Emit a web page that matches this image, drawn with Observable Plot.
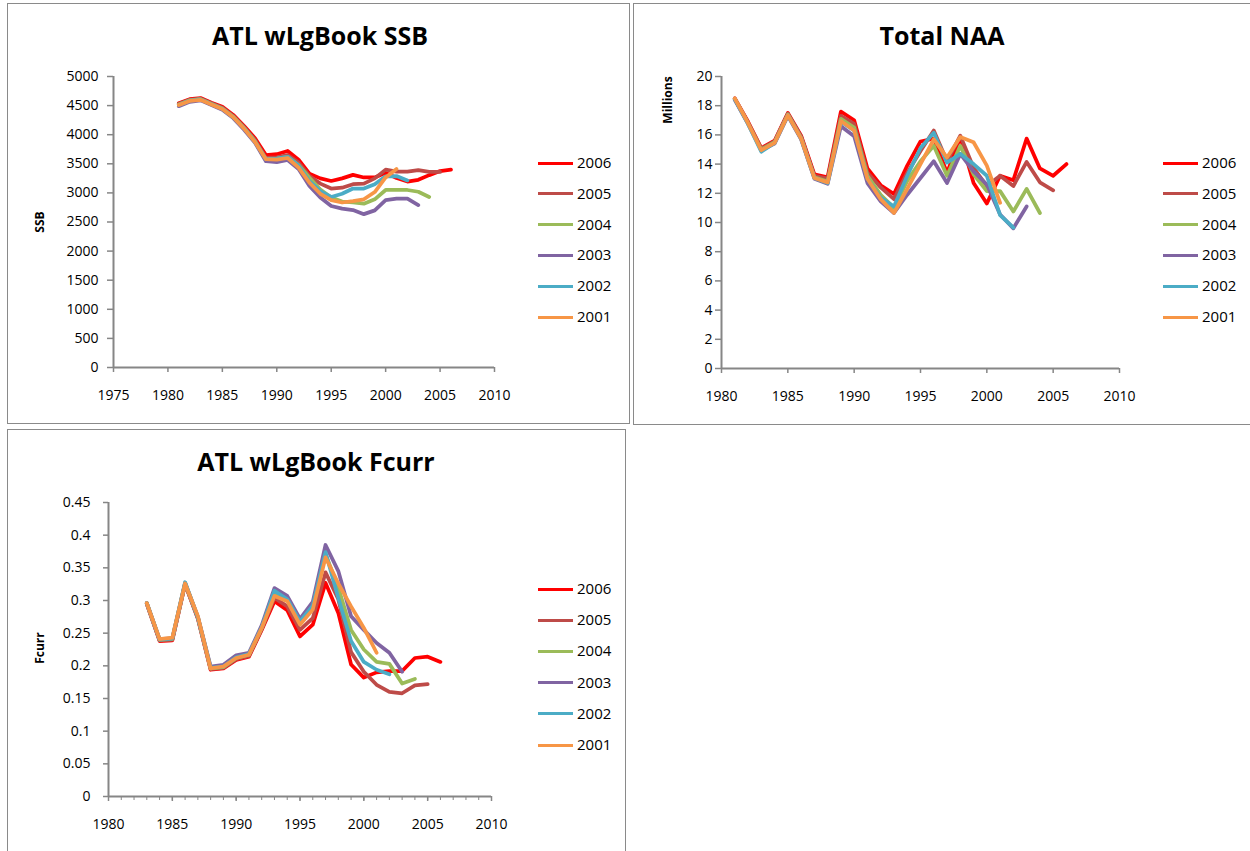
<!DOCTYPE html>
<html>
<head>
<meta charset="utf-8">
<script src="https://cdn.jsdelivr.net/npm/d3@7"></script>
<script src="https://cdn.jsdelivr.net/npm/@observablehq/plot@0.6"></script>
<style>
  html, body { margin: 0; padding: 0; background: #fff; }
  body { width: 1250px; height: 851px; position: relative; overflow: hidden; font-family: "Open Sans", sans-serif; }
  .panel { position: absolute; border: 1px solid #8a8a8a; box-sizing: border-box; background: #fff; }
  .title { position: absolute; font-weight: bold; font-size: 25px; line-height: 25px; text-align: center; color: #000; white-space: nowrap; }
  .ylab { position: absolute; font-weight: bold; font-size: 12px; line-height: 12px; color: #000; white-space: nowrap; transform: translate(-50%, -50%) rotate(-90deg); }
  .leg { position: absolute; font-size: 15px; line-height: 15px; color: #000; white-space: nowrap; }
  .leg .sw { position: absolute; height: 3px; }
  .leg .tx { position: absolute; }
  svg.chart { position: absolute; }
</style>
</head>
<body>
<script>
// ---------- data ----------
const runs = ["2006", "2005", "2004", "2003", "2002", "2001"];
const runColors = ["#ff0000", "#be4b48", "#9bbb59", "#8064a2", "#4bacc6", "#f79646"];

// SSB (ATL wLgBook SSB), years 1981..
const ssbYears = [1981,1982,1983,1984,1985,1986,1987,1988,1989,1990,1991,1992,1993,1994,1995,1996,1997,1998,1999,2000,2001,2002,2003,2004,2005,2006];
const ssb2006 = [4540,4610,4630,4550,4480,4340,4150,3940,3650,3665,3720,3570,3330,3250,3205,3250,3310,3265,3265,3345,3255,3195,3225,3305,3375,3400];
const ssb2005 = [4530,4600,4620,4540,4465,4320,4130,3910,3600,3610,3650,3520,3290,3160,3075,3090,3150,3160,3250,3400,3365,3365,3390,3360,3360];
const ssb2004 = [4520,4590,4610,4530,4450,4310,4115,3890,3580,3590,3620,3480,3260,3060,2920,2850,2835,2815,2890,3050,3050,3050,3020,2930];
const ssb2003 = [4490,4565,4590,4510,4430,4285,4085,3860,3545,3530,3565,3410,3120,2920,2775,2730,2705,2635,2700,2875,2900,2900,2790];
const ssb2002 = [4510,4585,4605,4525,4445,4300,4110,3880,3580,3590,3620,3470,3200,3030,2930,2985,3075,3075,3150,3285,3290,3215];
const ssb2001 = [4510,4580,4600,4520,4440,4300,4105,3875,3580,3570,3600,3435,3175,2985,2875,2835,2860,2890,3015,3265,3410];
const ssbYTicks = [0,500,1000,1500,2000,2500,3000,3500,4000,4500,5000];
const ssbXTicks = [1975,1980,1985,1990,1995,2000,2005,2010];

// Total NAA (millions), years 1981..
const naaYears = [1981,1982,1983,1984,1985,1986,1987,1988,1989,1990,1991,1992,1993,1994,1995,1996,1997,1998,1999,2000,2001,2002,2003,2004,2005,2006];
const naa2006 = [18.5,16.9,15.1,15.6,17.5,15.95,13.3,13.1,17.6,17.0,13.7,12.55,11.95,13.9,15.55,15.75,13.4,15.85,12.7,11.3,13.2,12.9,15.75,13.7,13.2,14.0];
const naa2005 = [18.5,16.85,15.05,15.55,17.45,15.9,13.2,13.0,17.3,16.75,13.4,12.4,11.6,13.4,14.9,16.3,14.2,15.95,13.75,12.5,13.2,12.5,14.15,12.75,12.2];
const naa2004 = [18.45,16.8,15.0,15.5,17.4,15.8,13.1,12.8,17.1,16.5,13.2,11.9,11.0,12.85,14.2,15.25,13.2,15.25,13.3,12.15,12.15,10.75,12.3,10.65];
const naa2003 = [18.4,16.75,14.95,15.4,17.3,15.7,13.0,12.65,16.6,15.9,12.7,11.45,10.65,11.9,13.05,14.2,12.7,14.7,13.5,12.6,10.55,9.6,11.1];
const naa2002 = [18.45,16.75,14.85,15.45,17.35,15.75,13.05,12.7,16.9,16.3,13.0,11.7,11.1,13.2,15.1,16.15,14.1,14.7,14.0,13.2,10.5,9.65];
const naa2001 = [18.5,16.8,14.95,15.45,17.35,15.75,13.05,12.75,16.95,16.3,13.0,11.6,10.65,12.3,14.0,15.7,14.45,15.85,15.5,13.9,11.35];
const naaYTicks = [0,2,4,6,8,10,12,14,16,18,20];
const naaXTicks = [1980,1985,1990,1995,2000,2005,2010];

// Fcurr, years 1983..
const fYears = [1983,1984,1985,1986,1987,1988,1989,1990,1991,1992,1993,1994,1995,1996,1997,1998,1999,2000,2001,2002,2003,2004,2005,2006];
const f2006 = [0.295,0.238,0.239,0.325,0.272,0.194,0.196,0.209,0.214,0.255,0.299,0.285,0.245,0.263,0.327,0.281,0.202,0.182,0.190,0.192,0.192,0.212,0.214,0.206];
const f2005 = [0.295,0.239,0.240,0.325,0.273,0.195,0.197,0.210,0.215,0.256,0.304,0.291,0.255,0.273,0.343,0.302,0.221,0.191,0.171,0.160,0.158,0.170,0.172];
const f2004 = [0.296,0.240,0.241,0.326,0.274,0.196,0.198,0.212,0.217,0.258,0.312,0.302,0.271,0.294,0.371,0.320,0.255,0.225,0.206,0.203,0.173,0.180];
const f2003 = [0.296,0.241,0.242,0.327,0.275,0.199,0.2015,0.216,0.220,0.262,0.319,0.307,0.272,0.298,0.385,0.345,0.276,0.255,0.235,0.220,0.191];
const f2002 = [0.296,0.240,0.242,0.328,0.274,0.197,0.199,0.213,0.218,0.259,0.315,0.302,0.268,0.292,0.374,0.304,0.238,0.206,0.194,0.187];
const f2001 = [0.296,0.241,0.243,0.326,0.276,0.196,0.199,0.212,0.217,0.258,0.307,0.299,0.263,0.286,0.366,0.326,0.291,0.258,0.220];
const fYTicks = [0,0.05,0.1,0.15,0.2,0.25,0.3,0.35,0.4,0.45];
const fXTicks = [1980,1985,1990,1995,2000,2005,2010];
const fXMinor = [1980,1981,1982,1983,1984,1985,1986,1987,1988,1989,1990,1991,1992,1993,1994,1995,1996,1997,1998,1999,2000,2001,2002,2003,2004,2005,2006,2007,2008,2009,2010];

// ---------- helpers ----------
function tidy(years, seriesList) {
  const rows = [];
  seriesList.forEach((vals, k) => {
    vals.forEach((v, i) => rows.push({run: runs[k], year: years[i], value: v}));
  });
  return rows;
}
function addDiv(cls, css, text) {
  const d = document.createElement("div");
  d.className = cls;
  Object.assign(d.style, css);
  if (text != null) d.textContent = text;
  document.body.appendChild(d);
  return d;
}
function legend(left, top, gap) {
  runs.forEach((r, i) => {
    const row = addDiv("leg", {left: left + "px", top: (top + i * gap) + "px"});
    const sw = document.createElement("div");
    sw.className = "sw";
    Object.assign(sw.style, {left: "0px", top: "-1.5px", width: "35px", background: runColors[i]});
    const tx = document.createElement("div");
    tx.className = "tx";
    Object.assign(tx.style, {left: "39px", top: "-8px"});
    tx.textContent = r;
    row.appendChild(sw); row.appendChild(tx);
  });
}
const axisGray = "#868686";
function chart(o) {
  const marks = [
    Plot.ruleY([o.yDomain[0]], {stroke: axisGray, strokeWidth: 2}),
    Plot.ruleX([o.xDomain[0]], {stroke: axisGray, strokeWidth: 2}),
    Plot.axisY({ticks: o.yTicks, tickSize: o.yTickSize, tickPadding: o.yTickPad, stroke: axisGray, strokeWidth: 1.5, tickFormat: d => String(d), label: null}),
    Plot.axisX({ticks: o.xTicks, tickSize: 5, tickPadding: 18, stroke: axisGray, strokeWidth: 1.5, tickFormat: d => String(d), label: null})
  ];
  if (o.xMinor) marks.push(Plot.axisX({ticks: o.xMinor, tickSize: 4, tickPadding: 0, stroke: axisGray, strokeWidth: 1, tickFormat: () => "", label: null}));
  marks.push(Plot.line(o.data, {x: "year", y: "value", z: "run", stroke: "run", strokeWidth: 3.75, strokeLinejoin: "round", strokeLinecap: "round"}));
  const svg = Plot.plot({
    width: o.width, height: o.height,
    marginLeft: o.ml, marginRight: o.mr, marginTop: o.mt, marginBottom: o.mb,
    x: {domain: o.xDomain},
    y: {domain: o.yDomain},
    color: {domain: runs, range: runColors},
    style: {fontFamily: "'Open Sans', sans-serif", fontSize: "14px", color: "#000", background: "transparent", overflow: "visible"},
    marks
  });
  svg.classList.add("chart");
  svg.style.left = o.left + "px";
  svg.style.top = o.top + "px";
  document.body.appendChild(svg);
}

// ---------- panels ----------
addDiv("panel", {left: "7px", top: "3px", width: "623px", height: "421px"});
addDiv("panel", {left: "633px", top: "3px", width: "700px", height: "422px"});
addDiv("panel", {left: "7px", top: "429px", width: "619px", height: "500px"});

// Panel 1: SSB
addDiv("title", {left: "120px", width: "400px", top: "23px"}, "ATL wLgBook SSB");
addDiv("ylab", {left: "40px", top: "222px"}, "SSB");
chart({
  left: 0, top: 0, width: 630, height: 423, ml: 113, mr: 136, mt: 76, mb: 56,
  xDomain: [1975, 2010], yDomain: [0, 5000], xTicks: ssbXTicks, yTicks: ssbYTicks,
  yTickSize: 6, yTickPad: 9,
  data: tidy(ssbYears, [ssb2006, ssb2005, ssb2004, ssb2003, ssb2002, ssb2001])
});
legend(538, 163, 30.8);

// Panel 2: Total NAA
addDiv("title", {left: "742px", width: "400px", top: "23px"}, "Total NAA");
addDiv("ylab", {left: "668px", top: "100px"}, "Millions");
chart({
  left: 630, top: 0, width: 620, height: 424, ml: 91, mr: 131, mt: 76, mb: 56,
  xDomain: [1980, 2010], yDomain: [0, 20], xTicks: naaXTicks, yTicks: naaYTicks,
  yTickSize: 6, yTickPad: 3,
  data: tidy(naaYears, [naa2006, naa2005, naa2004, naa2003, naa2002, naa2001])
});
legend(1163, 163, 30.8);

// Panel 3: Fcurr
addDiv("title", {left: "116px", width: "400px", top: "449px"}, "ATL wLgBook Fcurr");
addDiv("ylab", {left: "40px", top: "648px"}, "Fcurr");
chart({
  left: 0, top: 428, width: 630, height: 423, ml: 108, mr: 139, mt: 74, mb: 55,
  xDomain: [1980, 2010], yDomain: [0, 0.45], xTicks: fXTicks, yTicks: fYTicks, xMinor: fXMinor,
  yTickSize: 5, yTickPad: 13,
  data: tidy(fYears, [f2006, f2005, f2004, f2003, f2002, f2001])
});
legend(538, 589, 31.2);
</script>
</body>
</html>
